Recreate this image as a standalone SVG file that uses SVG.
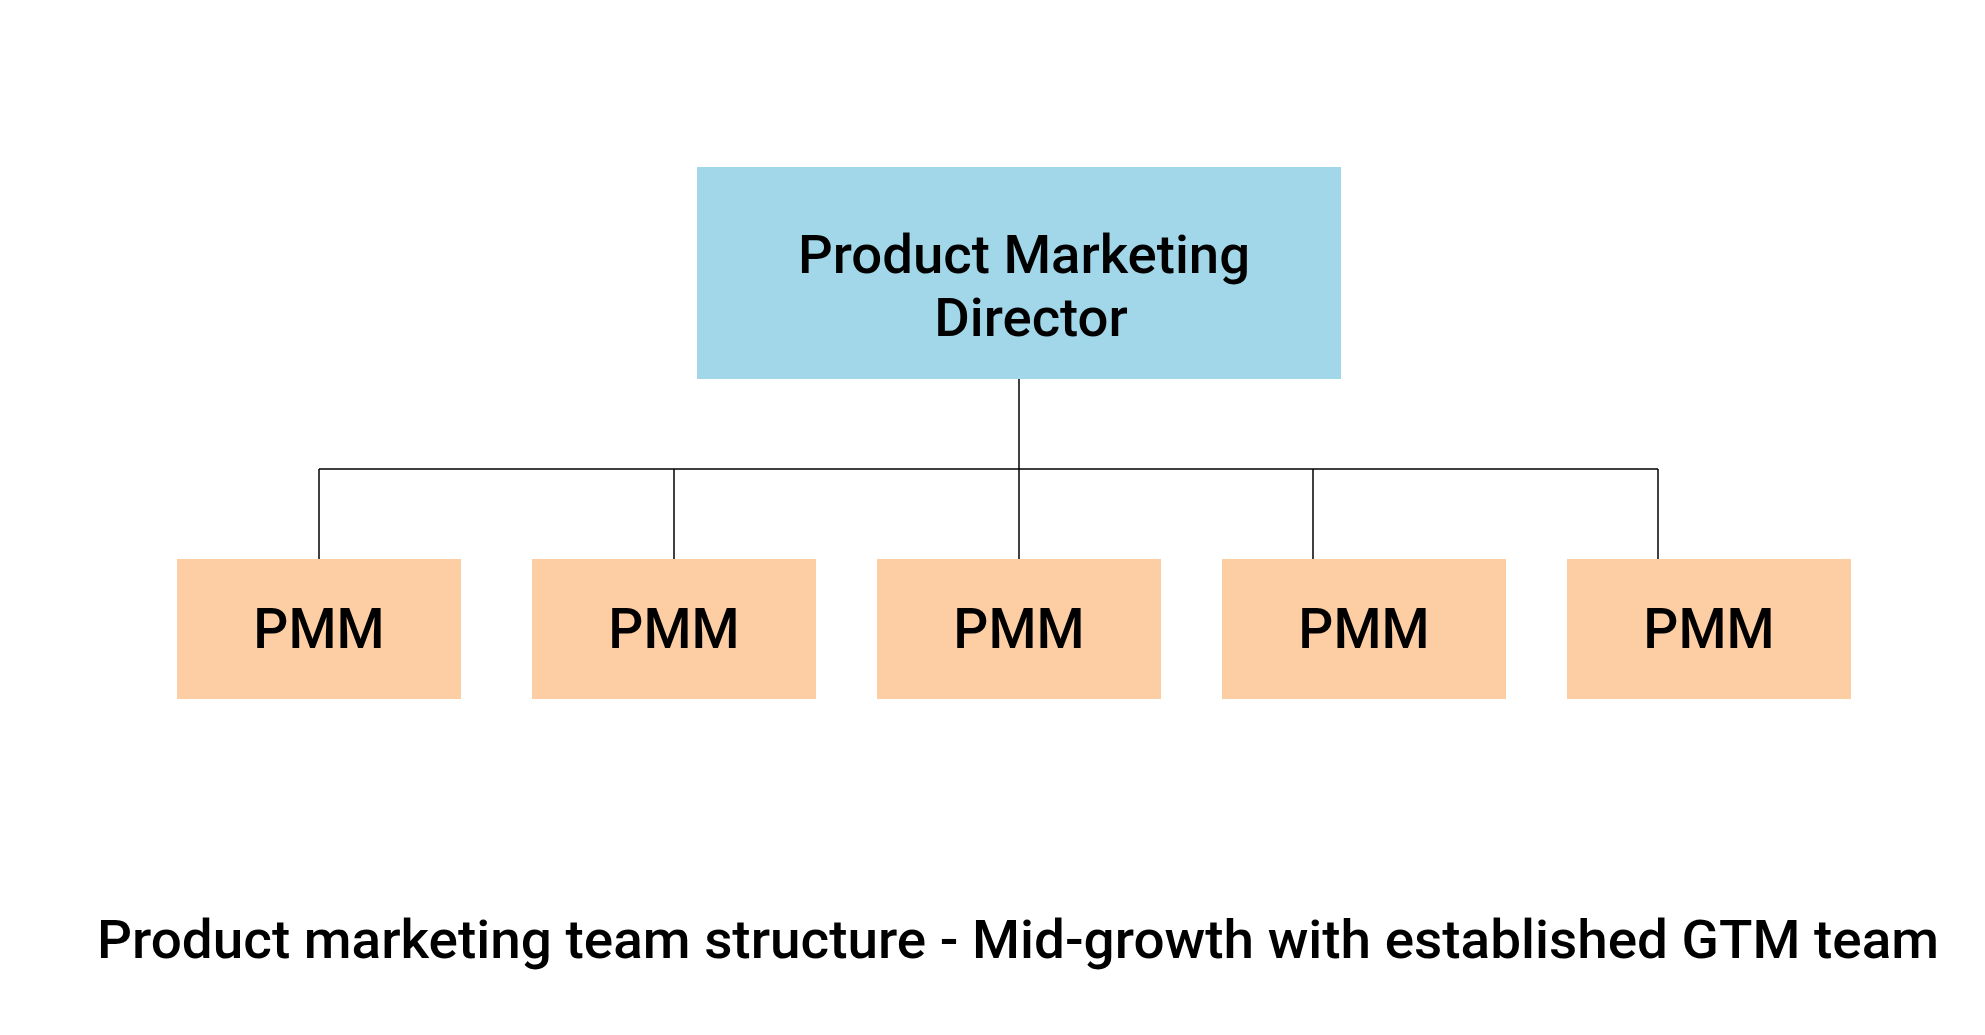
<svg xmlns="http://www.w3.org/2000/svg" width="1985" height="1035" viewBox="0 0 1985 1035">
<style>
.dir{fill:#a1d7e8}
.pmm{fill:#fdcea3}
.t{font-family:Roboto,"Liberation Sans",sans-serif;font-weight:500;fill:#000;text-anchor:middle}
.lbl{font-size:55px}
.ttl{font-size:54.5px}
.cap{font-size:53px}
.c{stroke:#000;stroke-width:1.5;fill:none}
</style>
<rect width="1985" height="1035" fill="#fff"/>
<g id="connectors">
<line class="c" x1="1019" y1="378" x2="1019" y2="559"/>
<line class="c" x1="319" y1="469" x2="1658" y2="469"/>
<line class="c" x1="319" y1="469" x2="319" y2="559"/>
<line class="c" x1="674" y1="469" x2="674" y2="559"/>
<line class="c" x1="1313" y1="469" x2="1313" y2="559"/>
<line class="c" x1="1658" y1="469" x2="1658" y2="559"/>
</g>
<g id="director">
<rect class="dir" x="697" y="167" width="644" height="212"/>
<text class="t ttl" x="1024" y="273">Product Marketing</text>
<text class="t ttl" x="1031" y="336">Director</text>
</g>
<g id="pmm1"><rect class="pmm" x="177" y="559" width="284" height="140"/><text class="t lbl" x="319" y="648">PMM</text></g>
<g id="pmm2"><rect class="pmm" x="532" y="559" width="284" height="140"/><text class="t lbl" x="674" y="648">PMM</text></g>
<g id="pmm3"><rect class="pmm" x="877" y="559" width="284" height="140"/><text class="t lbl" x="1019" y="648">PMM</text></g>
<g id="pmm4"><rect class="pmm" x="1222" y="559" width="284" height="140"/><text class="t lbl" x="1364" y="648">PMM</text></g>
<g id="pmm5"><rect class="pmm" x="1567" y="559" width="284" height="140"/><text class="t lbl" x="1709" y="648">PMM</text></g>
<g id="caption">
<text class="t cap" x="1018" y="958" textLength="1842" lengthAdjust="spacingAndGlyphs">Product marketing team structure - Mid-growth with established GTM team</text>
</g>
</svg>
